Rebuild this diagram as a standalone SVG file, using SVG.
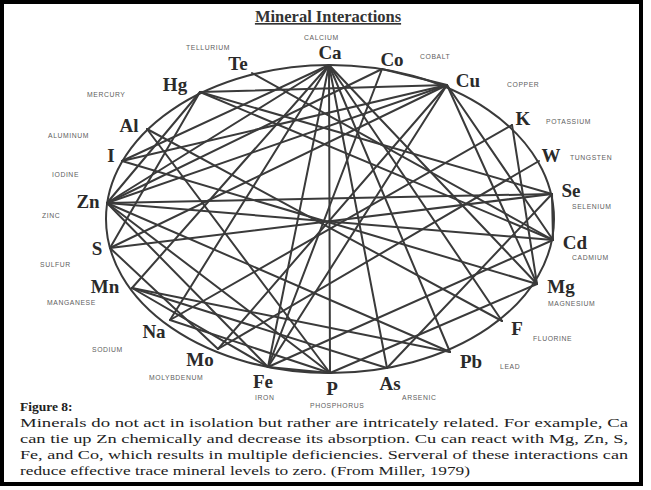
<svg xmlns="http://www.w3.org/2000/svg" width="651" height="490" viewBox="0 0 651 490">
<style>
.el{font-family:"Liberation Serif","DejaVu Serif",serif;font-weight:bold;font-size:19px;fill:#2a2a2a;text-anchor:middle}
.hw{font-family:"Liberation Sans","DejaVu Sans",sans-serif;font-size:6.8px;fill:#606060;letter-spacing:0.6px}
.cap{font-family:"Liberation Serif","DejaVu Serif",serif;font-size:13.5px;fill:#222}
.ln line{stroke:#3a3a3a;stroke-width:2;stroke-linecap:round}
</style>
<rect x="0" y="0" width="651" height="490" fill="#fff"/>
<rect x="2" y="2" width="639" height="482" fill="none" stroke="#000" stroke-width="4"/>
<text x="328" y="22" font-family="Liberation Serif,serif" font-weight="bold" font-size="16.5" fill="#333" text-anchor="middle" text-decoration="underline">Mineral Interactions</text>
<ellipse cx="330" cy="219" rx="224" ry="154" fill="none" stroke="#3a3a3a" stroke-width="2"/>
<g id="connectors" class="ln">
<line x1="329" y1="65" x2="330" y2="373"/>
<line x1="329" y1="65" x2="107" y2="203"/>
<line x1="329" y1="65" x2="537" y2="284"/>
<line x1="329" y1="65" x2="268" y2="367"/>
<line x1="329" y1="65" x2="450" y2="352"/>
<line x1="329" y1="65" x2="387" y2="368"/>
<line x1="329" y1="65" x2="132" y2="288"/>
<line x1="329" y1="65" x2="170" y2="320"/>
<line x1="329" y1="65" x2="122" y2="161"/>
<line x1="329" y1="65" x2="502" y2="321"/>
<line x1="447" y1="85" x2="200" y2="92"/>
<line x1="447" y1="85" x2="107" y2="203"/>
<line x1="447" y1="85" x2="110" y2="248"/>
<line x1="447" y1="85" x2="268" y2="367"/>
<line x1="447" y1="85" x2="218" y2="349"/>
<line x1="447" y1="85" x2="537" y2="284"/>
<line x1="447" y1="85" x2="382" y2="69"/>
<line x1="447" y1="85" x2="122" y2="161"/>
<line x1="447" y1="85" x2="553" y2="240"/>
<line x1="382" y1="69" x2="268" y2="367"/>
<line x1="512" y1="125" x2="170" y2="320"/>
<line x1="512" y1="125" x2="537" y2="284"/>
<line x1="539" y1="161" x2="218" y2="349"/>
<line x1="552" y1="194" x2="200" y2="92"/>
<line x1="552" y1="194" x2="553" y2="240"/>
<line x1="552" y1="194" x2="387" y2="368"/>
<line x1="552" y1="194" x2="107" y2="203"/>
<line x1="552" y1="194" x2="110" y2="248"/>
<line x1="553" y1="240" x2="107" y2="203"/>
<line x1="553" y1="240" x2="200" y2="92"/>
<line x1="553" y1="240" x2="268" y2="367"/>
<line x1="553" y1="240" x2="252" y2="73"/>
<line x1="537" y1="284" x2="330" y2="373"/>
<line x1="537" y1="284" x2="122" y2="161"/>
<line x1="502" y1="321" x2="147" y2="129"/>
<line x1="450" y1="352" x2="107" y2="203"/>
<line x1="450" y1="352" x2="132" y2="288"/>
<line x1="387" y1="368" x2="132" y2="288"/>
<line x1="330" y1="373" x2="107" y2="203"/>
<line x1="330" y1="373" x2="268" y2="367"/>
<line x1="330" y1="373" x2="147" y2="129"/>
<line x1="330" y1="373" x2="170" y2="320"/>
<line x1="268" y1="367" x2="107" y2="203"/>
<line x1="268" y1="367" x2="132" y2="288"/>
<line x1="218" y1="349" x2="110" y2="248"/>
<line x1="200" y1="92" x2="110" y2="248"/>
<line x1="200" y1="92" x2="107" y2="203"/>
<line x1="382" y1="69" x2="107" y2="203"/>
</g>
<g id="Te"><text class="el" x="238" y="70">Te</text><text class="hw" x="186" y="50">TELLURIUM</text></g>
<g id="Ca"><text class="el" x="330" y="59">Ca</text><text class="hw" x="304" y="40">CALCIUM</text></g>
<g id="Co"><text class="el" x="392" y="66">Co</text><text class="hw" x="420" y="59">COBALT</text></g>
<g id="Cu"><text class="el" x="468" y="87">Cu</text><text class="hw" x="507" y="87">COPPER</text></g>
<g id="K"><text class="el" x="523" y="125">K</text><text class="hw" x="546" y="124">POTASSIUM</text></g>
<g id="W"><text class="el" x="551" y="162">W</text><text class="hw" x="570" y="160">TUNGSTEN</text></g>
<g id="Se"><text class="el" x="571" y="197">Se</text><text class="hw" x="572" y="209">SELENIUM</text></g>
<g id="Cd"><text class="el" x="575" y="249">Cd</text><text class="hw" x="572" y="260">CADMIUM</text></g>
<g id="Mg"><text class="el" x="561" y="293">Mg</text><text class="hw" x="548" y="306">MAGNESIUM</text></g>
<g id="F"><text class="el" x="517" y="335">F</text><text class="hw" x="533" y="341">FLUORINE</text></g>
<g id="Pb"><text class="el" x="471" y="368">Pb</text><text class="hw" x="500" y="369">LEAD</text></g>
<g id="As"><text class="el" x="390" y="390">As</text><text class="hw" x="402" y="400">ARSENIC</text></g>
<g id="P"><text class="el" x="332" y="395">P</text><text class="hw" x="310" y="408">PHOSPHORUS</text></g>
<g id="Fe"><text class="el" x="263" y="388">Fe</text><text class="hw" x="255" y="400">IRON</text></g>
<g id="Mo"><text class="el" x="200" y="366">Mo</text><text class="hw" x="149" y="380">MOLYBDENUM</text></g>
<g id="Na"><text class="el" x="154" y="338">Na</text><text class="hw" x="92" y="352">SODIUM</text></g>
<g id="Mn"><text class="el" x="105" y="293">Mn</text><text class="hw" x="47" y="305">MANGANESE</text></g>
<g id="S"><text class="el" x="97" y="255">S</text><text class="hw" x="40" y="267">SULFUR</text></g>
<g id="Zn"><text class="el" x="88" y="208">Zn</text><text class="hw" x="42" y="218">ZINC</text></g>
<g id="I"><text class="el" x="111" y="162">I</text><text class="hw" x="52" y="177">IODINE</text></g>
<g id="Al"><text class="el" x="129" y="132">Al</text><text class="hw" x="48" y="138">ALUMINUM</text></g>
<g id="Hg"><text class="el" x="175" y="91">Hg</text><text class="hw" x="87" y="97">MERCURY</text></g>
<g id="caption">
<text class="cap" x="20" y="411" font-weight="bold">Figure 8:</text>
<text class="cap" x="20" y="427" textLength="608" lengthAdjust="spacingAndGlyphs">Minerals do not act in isolation but rather are intricately related.  For example, Ca</text>
<text class="cap" x="20" y="443" textLength="608" lengthAdjust="spacingAndGlyphs">can tie up Zn chemically and decrease its absorption.  Cu can react with Mg, Zn, S,</text>
<text class="cap" x="20" y="459" textLength="608" lengthAdjust="spacingAndGlyphs">Fe, and Co, which results in multiple deficiencies.  Serveral of these interactions can</text>
<text class="cap" x="20" y="475" textLength="450" lengthAdjust="spacingAndGlyphs">reduce effective trace mineral levels to zero.  (From Miller, 1979)</text>
</g>
</svg>
